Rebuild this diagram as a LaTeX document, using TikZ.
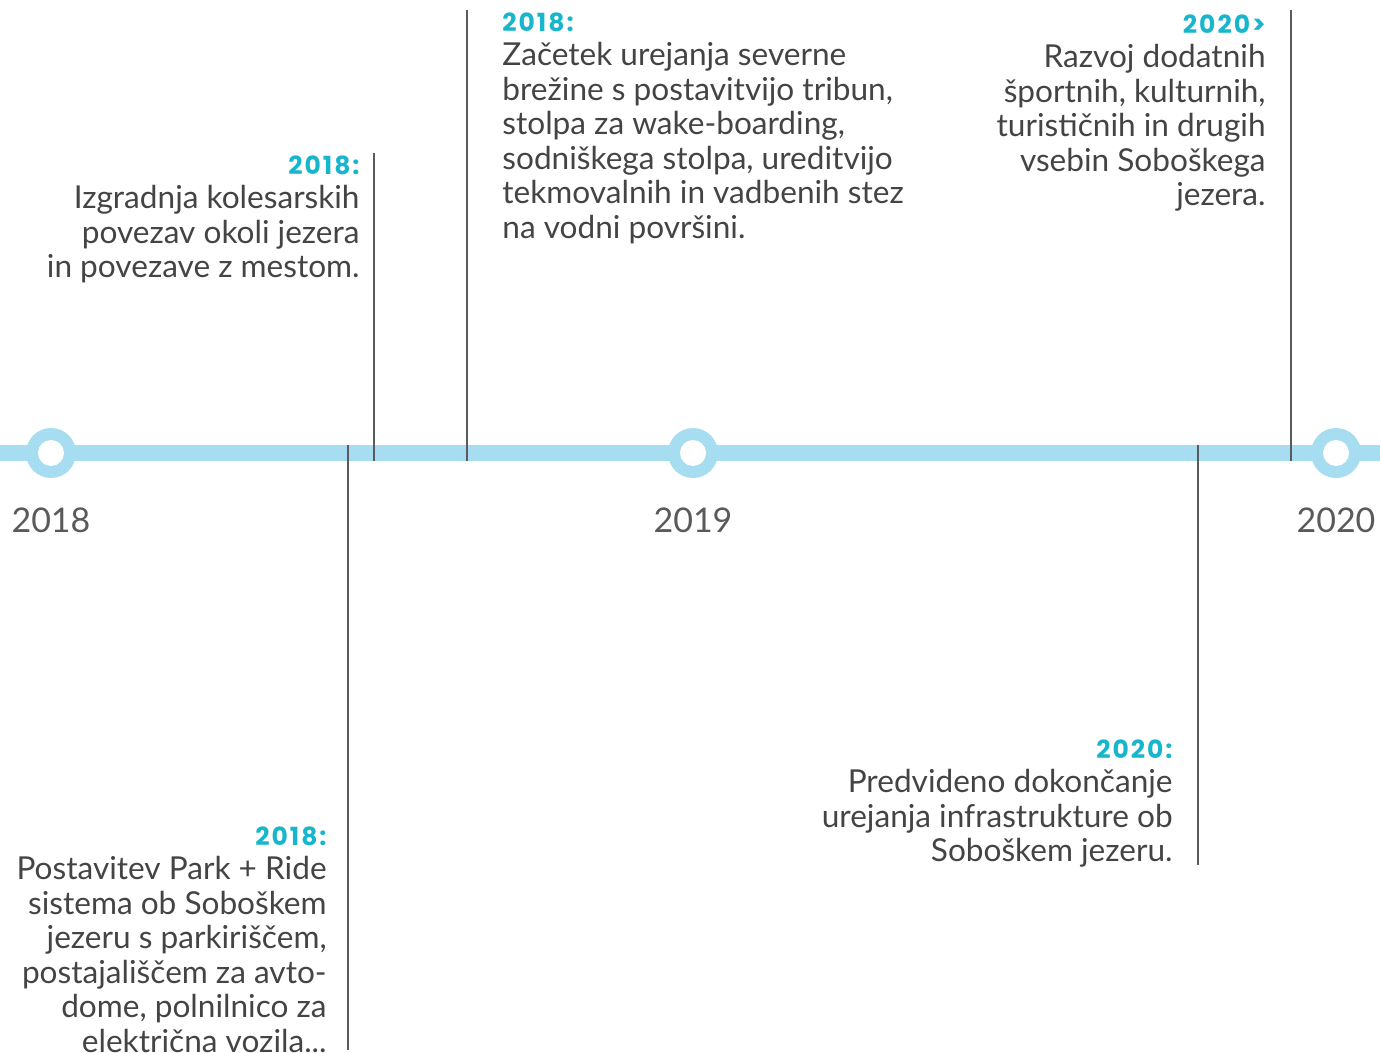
\documentclass[tikz,border=0pt]{standalone}
\usepackage{fontspec}
\setmainfont{Lato}
\newfontfamily\headfont[LetterSpace=8]{Poppins}
\usetikzlibrary{positioning}
\definecolor{linija}{HTML}{A6DDF0}
\definecolor{naslov}{HTML}{17B6CC}
\definecolor{besedilo}{HTML}{444444}
\definecolor{crta}{HTML}{5A5A5A}
\newcommand{\leto}[1]{{\fontsize{12.5}{17.25}\headfont\bfseries\color{naslov}#1}}

\begin{document}
\begin{tikzpicture}[x=0.5pt, y=-0.5pt,
		dogodek/.style={font=\fontsize{15.8}{17.25}\selectfont, text=besedilo, inner sep=0pt},
		letnica/.style={font=\fontsize{17}{20}\selectfont, text=crta, inner sep=0pt, anchor=base},
		kazalec/.style={draw=crta, line width=0.75pt}]
	\useasboundingbox (0,0) rectangle (1380,1053);
	\draw [linija, line width=8pt] (0,453) -- (1380,453); % os casa
	\foreach \x/\ime in {51/a, 693/b, 1336/c} {
		\fill [linija] (\x,453) circle (25); % krog
		\fill [white] (\x,453) circle (13);
		\coordinate (k\ime) at (\x,453);
	}
	\node [letnica] (l2018) at (51,532) {2018};
	\node [letnica] (l2019) at (693,532) {2019};
	\node [letnica] (l2020) at (1336,532) {2020};
	% dogodki nad osjo
	\node [dogodek, align=right, anchor=north east] (kolesarske) at (360,155) {\leto{2018:}\\Izgradnja kolesarskih\\povezav okoli jezera\\in povezave z mestom.};
	\node [dogodek, align=left, anchor=north west] (brezina) at (502,12) {\leto{2018:}\\Začetek urejanja severne\\brežine s postavitvijo tribun,\\stolpa za wake-boarding,\\sodniškega stolpa, ureditvijo\\tekmovalnih in vadbenih stez\\na vodni površini.};
	\node [dogodek, align=right, anchor=north east] (vsebine) at (1266,14) {\leto{2020>}\\Razvoj dodatnih\\športnih, kulturnih,\\turističnih in drugih\\vsebin Soboškega\\jezera.};
	% dogodki pod osjo
	\node [dogodek, align=right, anchor=north east] (infra) at (1173,739) {\leto{2020:}\\Predvideno dokončanje\\urejanja infrastrukture ob\\Soboškem jezeru.};
	\node [dogodek, align=right, anchor=north east] (parkride) at (327,826) {\leto{2018:}\\Postavitev Park + Ride\\sistema ob Soboškem\\jezeru s parkiriščem,\\postajališčem za avto-\\dome, polnilnico za\\električna vozila...};
	% navpicne crte
	\coordinate (t1) at (374,153); \coordinate (o1) at (374,461);
	\coordinate (t2) at (467,10); \coordinate (o2) at (467,461);
	\coordinate (t3) at (1291,10); \coordinate (o3) at (1291,461);
	\coordinate (t4) at (348,445); \coordinate (o4) at (348,1050);
	\coordinate (t5) at (1198,445); \coordinate (o5) at (1198,865);
	\foreach \i in {1,...,5} \draw [kazalec] (t\i) -- (o\i);
\end{tikzpicture}
\end{document}
